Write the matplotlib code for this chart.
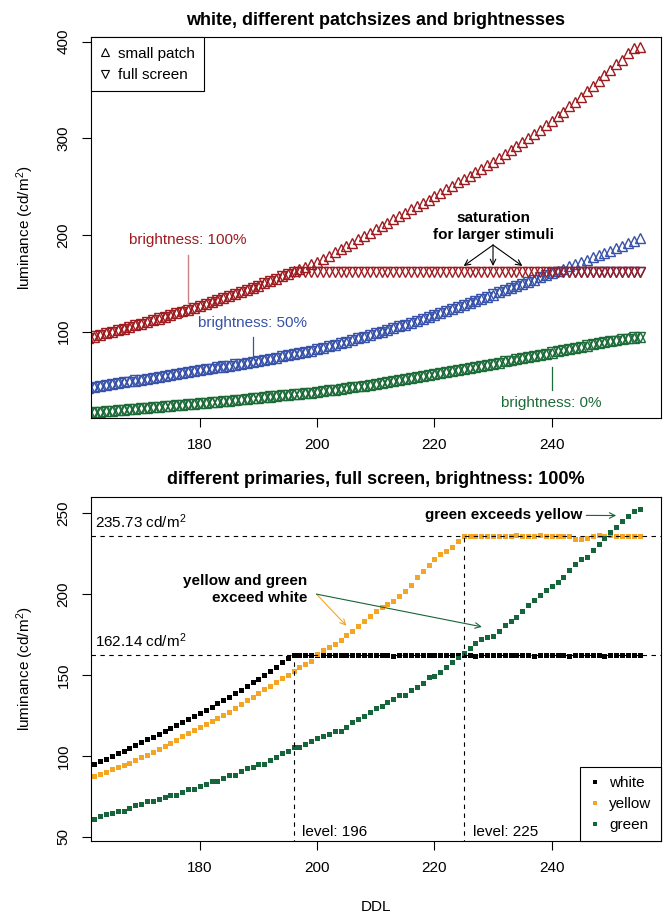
import numpy as np
import matplotlib.pyplot as plt
from matplotlib.lines import Line2D

plt.rcParams['font.family'] = ['Liberation Sans', 'DejaVu Sans']
plt.rcParams['mathtext.fontset'] = 'custom'
plt.rcParams['mathtext.rm'] = 'Liberation Sans'
plt.rcParams['mathtext.it'] = 'Liberation Sans:italic'
plt.rcParams['mathtext.bf'] = 'Liberation Sans:bold'
plt.rcParams['font.size'] = 11

## DATA (luminance in cd/m^2 per DDL 161..255)

ddl = np.arange(161, 256)

# white, full screen, brightness 100% (same measurement in both panels)
white_full = [
    93.5, 95.1, 96.6, 98.3, 99.9, 101.6, 103.2, 105.0, 106.7, 108.4,
    110.1, 111.9, 113.7, 115.4, 117.3, 119.1, 120.9, 122.8, 124.7, 126.5,
    128.5, 130.4, 132.5, 134.5, 136.6, 138.7, 140.8, 143.1, 145.3, 147.6,
    150.0, 152.4, 155.0, 157.6, 160.1, 162.1, 162.2, 162.0, 162.1, 162.3,
    162.1, 162.0, 162.3, 162.1, 162.2, 162.0, 162.1, 162.3, 162.0, 162.2,
    162.1, 162.2, 161.9, 162.1, 162.3, 162.0, 162.2, 162.1, 162.0, 162.2,
    162.1, 162.3, 162.0, 162.1, 162.2, 162.1, 161.9, 162.2, 162.1, 162.0,
    162.2, 162.1, 162.3, 162.0, 162.1, 162.2, 161.8, 162.1, 162.0, 162.3,
    162.1, 162.0, 161.8, 162.2, 162.3, 162.1, 162.0, 162.2, 161.9, 162.1,
    162.2, 162.0, 162.1, 162.3, 162.2]

# white, small patch, brightness 100%
white_small_100 = [
    93.2, 94.9, 96.6, 98.2, 99.8, 101.5, 103.3, 105.0, 106.6, 108.3,
    110.2, 112.0, 113.6, 115.5, 117.4, 119.1, 121.0, 122.9, 124.6, 126.6,
    128.6, 130.5, 132.4, 134.6, 136.7, 138.6, 140.9, 143.2, 145.2, 147.7,
    150.1, 152.5, 154.9, 157.5, 160.0, 162.6, 164.9, 167.2, 169.8, 172.3,
    175.5, 178.6, 182.0, 185.4, 188.7, 192.3, 195.6, 199.1, 202.6, 206.0,
    209.3, 212.9, 216.1, 219.7, 223.0, 226.5, 229.8, 233.3, 236.5, 240.1,
    243.5, 247.3, 250.6, 254.5, 258.0, 261.4, 265.3, 268.7, 272.5, 276.0,
    280.1, 283.8, 288.2, 291.9, 296.2, 300.3, 304.9, 309.0, 313.8, 318.1,
    323.2, 327.8, 333.1, 337.9, 343.2, 349.0, 354.5, 359.5, 365.5, 371.0,
    376.5, 381.5, 388.0, 393.5, 394.5]

# white, brightness 50%
white_small_50 = [
    42.0, 42.9, 43.9, 44.8, 45.8, 46.7, 47.6, 48.6, 49.5, 50.5,
    51.4, 52.4, 53.3, 54.2, 55.2, 56.1, 57.1, 58.0, 59.0, 60.0,
    61.0, 62.0, 63.0, 64.0, 65.0, 66.0, 67.0, 68.0, 69.0, 70.0,
    71.1, 72.2, 73.3, 74.5, 75.7, 76.9, 78.1, 79.3, 80.5, 81.8,
    83.3, 84.9, 86.5, 88.1, 89.7, 91.4, 93.1, 94.8, 96.5, 98.2,
    100.0, 101.8, 103.6, 105.5, 107.4, 109.3, 111.2, 113.1, 115.1, 117.1,
    119.1, 121.2, 123.3, 125.4, 127.5, 129.7, 131.9, 134.1, 136.3, 138.5,
    140.7, 142.9, 145.1, 147.3, 149.5, 151.7, 153.9, 156.1, 158.4, 160.7,
    163.0, 165.3, 167.6, 169.9, 172.2, 174.5, 176.8, 179.1, 181.4, 183.8,
    186.4, 189.0, 191.6, 194.2, 196.8]
white_full_50 = [
    42.1, 43.0, 43.8, 44.9, 45.7, 46.8, 47.7, 48.5, 49.6, 50.4,
    51.5, 52.3, 53.4, 54.3, 55.1, 56.2, 57.0, 58.1, 59.1, 59.9,
    61.1, 61.9, 63.1, 64.1, 64.9, 66.1, 67.1, 67.9, 69.1, 70.1,
    71.0, 72.3, 73.2, 74.6, 75.6, 77.0, 78.0, 79.4, 80.4, 81.9,
    83.2, 85.0, 86.4, 88.2, 89.6, 91.5, 93.0, 94.9, 96.4, 98.3,
    99.9, 101.9, 103.5, 105.6, 107.3, 109.4, 111.1, 113.2, 115.0, 117.2,
    119.0, 121.3, 123.2, 125.5, 127.4, 129.8, 131.8, 134.2, 136.2, 138.6,
    140.6, 143.0, 145.0, 147.4, 149.4, 151.8, 153.8, 156.2, 158.3, 160.6,
    161.9, 162.0, 162.1, 161.9, 162.0, 162.1, 162.0, 161.9, 162.1, 162.0,
    162.0, 162.1, 161.9, 162.0, 162.1]

# white, brightness 0%
white_small_0 = [
    16.3, 16.8, 17.3, 17.8, 18.3, 18.8, 19.3, 19.8, 20.3, 20.8,
    21.3, 21.8, 22.3, 22.8, 23.3, 23.9, 24.5, 25.0, 25.6, 26.2,
    26.7, 27.2, 27.7, 28.2, 28.8, 29.3, 29.9, 30.5, 31.1, 31.7,
    32.3, 32.9, 33.5, 34.1, 34.7, 35.3, 35.9, 36.5, 37.1, 37.8,
    38.6, 39.4, 40.2, 41.0, 41.8, 42.6, 43.4, 44.2, 45.1, 46.0,
    46.9, 47.9, 48.9, 49.9, 50.9, 51.9, 52.9, 53.9, 54.9, 56.0,
    57.1, 58.2, 59.3, 60.4, 61.5, 62.6, 63.7, 64.8, 65.9, 67.0,
    68.1, 69.2, 70.3, 71.4, 72.6, 73.8, 75.0, 76.1, 77.3, 78.5,
    79.7, 80.9, 82.1, 83.3, 84.5, 85.7, 86.9, 88.0, 89.0, 90.0,
    91.0, 92.0, 93.0, 94.0, 95.0]
white_full_0 = [
    16.2, 16.9, 17.2, 17.9, 18.2, 18.9, 19.2, 19.9, 20.2, 20.9,
    21.2, 21.9, 22.2, 22.9, 23.2, 24.0, 24.4, 25.1, 25.5, 26.3,
    26.6, 27.3, 27.6, 28.3, 28.7, 29.4, 29.8, 30.6, 31.0, 31.8,
    32.2, 33.0, 33.4, 34.2, 34.6, 35.4, 35.8, 36.6, 37.0, 37.9,
    38.5, 39.5, 40.1, 41.1, 41.7, 42.7, 43.3, 44.3, 45.0, 46.1,
    46.8, 48.0, 48.8, 50.0, 50.8, 52.0, 52.8, 54.0, 54.8, 56.1,
    57.0, 58.3, 59.2, 60.5, 61.4, 62.7, 63.6, 64.9, 65.8, 67.1,
    68.0, 69.3, 70.2, 71.5, 72.5, 73.9, 74.9, 76.2, 77.2, 78.6,
    79.6, 81.0, 82.0, 83.4, 84.4, 85.8, 86.8, 88.1, 88.9, 90.1,
    90.9, 92.1, 92.9, 94.1, 94.9]

# primaries, full screen, brightness 100%
yellow_full = [
    86.4, 87.7, 89.0, 90.3, 91.6, 92.9, 94.3, 95.8, 97.4, 99.0,
    100.7, 102.4, 104.2, 106.1, 108.1, 110.0, 112.0, 113.9, 115.9, 117.9,
    119.8, 121.6, 123.5, 125.3, 127.3, 129.6, 132.0, 134.4, 136.6, 138.9,
    141.1, 143.3, 145.5, 147.8, 150.1, 152.4, 154.6, 156.7, 158.8, 163.0,
    165.6, 167.4, 169.2, 171.4, 174.8, 177.3, 180.4, 183.2, 186.3, 189.5,
    191.9, 193.6, 195.4, 198.9, 202.0, 205.6, 210.1, 214.3, 217.8, 221.2,
    224.3, 226.4, 229.0, 232.3, 235.6, 235.9, 235.8, 235.6, 235.9, 235.7,
    235.8, 235.9, 235.6, 236.0, 235.7, 235.9, 235.8, 236.0, 235.6, 235.9,
    235.7, 235.5, 235.4, 233.8, 233.6, 234.3, 235.9, 236.1, 235.7, 236.2,
    235.8, 235.5, 235.6, 235.7, 235.6]
green_full = [
    61.3, 61.2, 63.0, 64.2, 64.4, 66.0, 66.1, 68.0, 69.5, 70.0,
    71.8, 72.0, 73.6, 74.4, 75.8, 76.0, 77.8, 79.5, 79.7, 81.2,
    82.8, 84.3, 84.5, 86.5, 88.2, 88.4, 90.6, 92.6, 92.8, 94.9,
    95.0, 97.2, 99.3, 101.6, 103.1, 105.2, 105.3, 107.4, 109.3, 110.9,
    112.2, 113.6, 115.4, 115.3, 117.6, 120.6, 122.7, 124.3, 127.1, 129.2,
    131.0, 133.0, 135.0, 137.6, 137.8, 140.7, 142.6, 145.2, 148.8, 149.1,
    152.0, 155.0, 158.0, 160.8, 163.3, 166.5, 169.5, 171.8, 173.3, 174.0,
    177.0, 180.5, 183.0, 185.5, 189.5, 193.0, 196.0, 199.0, 202.5, 205.0,
    207.0, 210.5, 214.5, 218.5, 221.5, 223.0, 227.0, 230.5, 234.5, 238.0,
    241.5, 245.0, 248.0, 251.0, 252.3]

sat_white = 162.14
sat_yellow = 235.73
level_white = 196
level_yellow = 225

## COLOURS
c_red = '#9e1b20'
c_blue = '#3752a8'
c_green = '#1d6b38'
c_orange = '#f5a524'
c_dgreen = '#17653a'

## FIGURE
fig = plt.figure(figsize=(6.67, 9.14), dpi=100)
ax1 = fig.add_axes([0.136, 0.5423, 0.8546, 0.4168])
ax2 = fig.add_axes([0.136, 0.0795, 0.8546, 0.377])

for ax in (ax1, ax2):
    for sp in ax.spines.values():
        sp.set_linewidth(0.8)
    ax.tick_params(direction='out', length=6.5, width=0.8, pad=8, labelsize=11)
    ax.set_xlim(161.4, 258.6)
    ax.set_xticks([180, 200, 220, 240])

# top panel
tri = dict(ls='none', mfc='none', ms=6.8, mew=1.0)
for small, full, col in [(white_small_0, white_full_0, c_green),
                         (white_small_50, white_full_50, c_blue),
                         (white_small_100, white_full, c_red)]:
    ax1.plot(ddl, full, marker='v', mec=col, **tri)
    ax1.plot(ddl, small, marker='^', mec=col, **tri)

ax1.set_ylim(10.4, 404.5)
ax1.set_yticks([100, 200, 300, 400])
plt.setp(ax1.get_yticklabels(), rotation=90, va='center')
ax1.set_ylabel('luminance (cd/m$^2$)', fontsize=11, labelpad=15)

leg_handles = [Line2D([], [], marker='^', ls='none', mfc='none', mec='black', ms=6, mew=0.8),
               Line2D([], [], marker='v', ls='none', mfc='none', mec='black', ms=6, mew=0.8)]
leg = ax1.legend(leg_handles, ['small patch', 'full screen'], loc='upper left',
                 borderaxespad=0, fancybox=False, edgecolor='black', framealpha=1,
                 handlelength=0.7, handletextpad=0.5, labelspacing=0.5, borderpad=0.6,
                 fontsize=11)
leg.get_frame().set_linewidth(0.8)

ax1.text(178, 194.8, 'brightness: 100%', color=c_red, ha='center', va='center', fontsize=11)
ax1.plot([178, 178], [129.4, 179.3], color=c_red, alpha=0.55, lw=1)
ax1.text(189, 108.7, 'brightness: 50%', color=c_blue, ha='center', va='center', fontsize=11)
ax1.plot([189, 189], [74.1, 94.8], color=c_blue, lw=0.9)
ax1.text(240, 26, 'brightness: 0%', color=c_green, ha='center', va='center', fontsize=11)
ax1.plot([240, 240], [39.7, 63.8], color=c_green, lw=0.9)

ax1.text(230, 209, 'saturation\nfor larger stimuli', fontweight='bold', ha='center',
         va='center', linespacing=1.25, fontsize=11)
for xe in [225, 230, 235]:
    ax1.annotate('', xy=(xe, 168), xytext=(230, 189.7),
                 arrowprops=dict(arrowstyle='->', lw=0.8, color='black',
                                 shrinkA=0, shrinkB=0, mutation_scale=10))

ax1.set_title('white, different patchsizes and brightnesses', fontweight='bold',
              fontsize=13, pad=9)

# bottom panel
sq = dict(ls='none', marker='s', ms=3.6, mew=0)
ax2.plot(ddl, white_full, color='black', label='white', **sq)
ax2.plot(ddl, yellow_full, color=c_orange, label='yellow', **sq)
ax2.plot(ddl, green_full, color=c_dgreen, label='green', **sq)

ax2.set_ylim(47.2, 259.9)
ax2.set_yticks([50, 100, 150, 200, 250])
plt.setp(ax2.get_yticklabels(), rotation=90, va='center')
ax2.set_ylabel('luminance (cd/m$^2$)', fontsize=11, labelpad=15)
ax2.set_xlabel('DDL', fontsize=11, labelpad=18)

dash = dict(color='black', lw=0.8, ls=(0, (4, 4)))
ax2.axhline(sat_yellow, **dash)
ax2.axhline(sat_white, **dash)
ax2.plot([level_white, level_white], [40, sat_white], **dash)
ax2.plot([level_yellow, level_yellow], [40, sat_yellow], **dash)

ax2.text(162.1, 244.4, '%.2f cd/m$^2$' % sat_yellow, ha='left', va='center', fontsize=11)
ax2.text(162.1, 170.8, '%.2f cd/m$^2$' % sat_white, ha='left', va='center', fontsize=11)
ax2.text(197.5, 53.1, 'level: %d' % level_white, ha='left', va='center', fontsize=11)
ax2.text(226.6, 53.1, 'level: %d' % level_yellow, ha='left', va='center', fontsize=11)

ax2.text(198.3, 202.8, 'yellow and green\nexceed white', fontweight='bold', ha='right',
         va='center', multialignment='right', linespacing=1.25, fontsize=11)
ax2.annotate('', xy=(205, 180.3), xytext=(199.9, 199.8),
             arrowprops=dict(arrowstyle='->', lw=0.8, color=c_orange,
                             shrinkA=0, shrinkB=0, mutation_scale=10))
ax2.annotate('', xy=(228.1, 179.6), xytext=(199.9, 199.8),
             arrowprops=dict(arrowstyle='->', lw=0.8, color=c_dgreen,
                             shrinkA=0, shrinkB=0, mutation_scale=10))
ax2.text(245.2, 248.6, 'green exceeds yellow', fontweight='bold', ha='right',
         va='center', fontsize=11)
ax2.annotate('', xy=(251, 248.3), xytext=(245.9, 248.4),
             arrowprops=dict(arrowstyle='->', lw=0.8, color=c_dgreen,
                             shrinkA=0, shrinkB=0, mutation_scale=10))

leg2 = ax2.legend(loc='lower right', borderaxespad=0, fancybox=False, edgecolor='black',
                  framealpha=1, handlelength=0.7, handletextpad=0.6, labelspacing=0.45,
                  borderpad=0.6, fontsize=11, markerscale=0.9)
leg2.get_frame().set_linewidth(0.8)

ax2.set_title('different primaries, full screen, brightness: 100%', fontweight='bold',
              fontsize=13, pad=9)

fig.savefig('out.png', dpi=100)
